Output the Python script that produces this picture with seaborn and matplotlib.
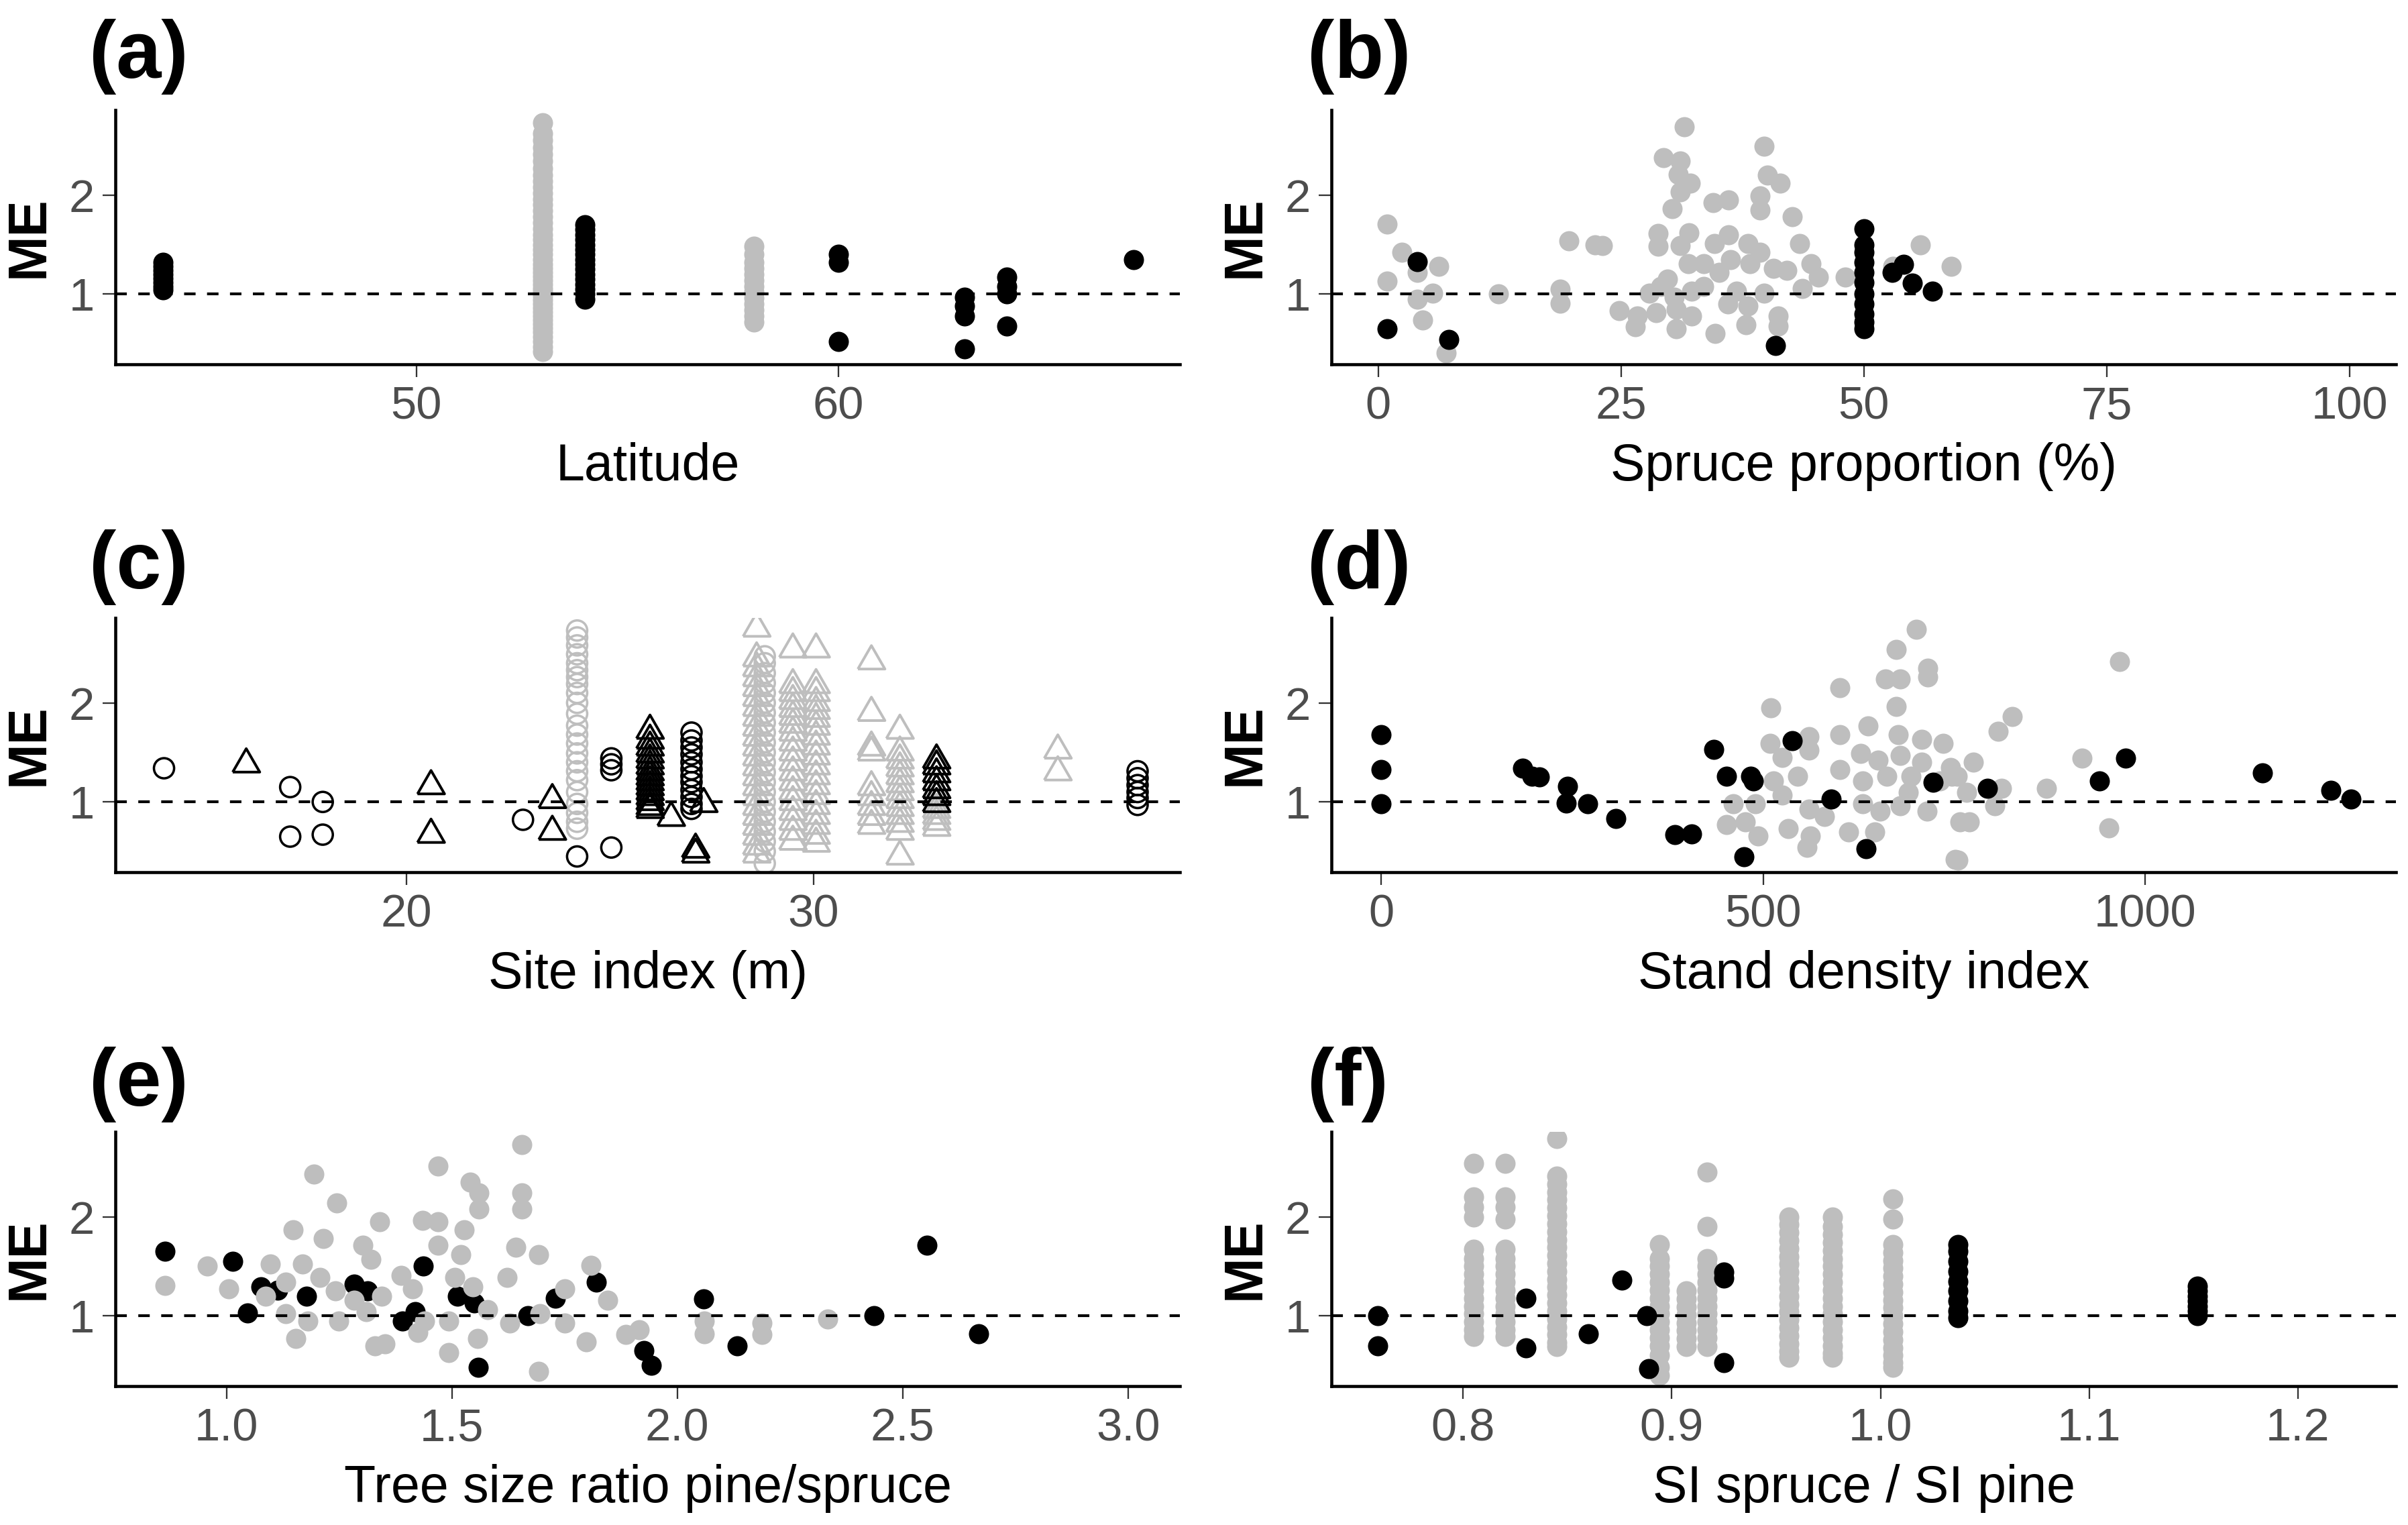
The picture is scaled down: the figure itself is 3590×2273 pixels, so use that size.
import numpy as np
import pandas as pd
import matplotlib
matplotlib.use("Agg")
import matplotlib.pyplot as plt
import seaborn as sns

# ---------------- DATA ----------------
# (a) Latitude
a_black_x = [44.0, 54.0, 60.0, 63.0, 64.0, 67.0]
a_black_me = [
    [1.04, 1.08, 1.12, 1.16, 1.20, 1.24, 1.28, 1.32],
    [0.95, 1.00, 1.05, 1.10, 1.15, 1.20, 1.25, 1.30, 1.35, 1.40, 1.45, 1.50, 1.55, 1.60, 1.65, 1.70],
    [0.52, 1.32, 1.40],
    [0.45, 0.78, 0.88, 0.97],
    [0.68, 1.00, 1.08, 1.17],
    [1.35],
]
a_grey_x = [53.0, 58.0]
a_grey_me = [
    [0.42, 0.47, 0.52, 0.57, 0.62, 0.66, 0.70, 0.74, 0.78, 0.82, 0.86, 0.90, 0.94, 0.98, 1.02,
     1.06, 1.10, 1.14, 1.18, 1.22, 1.26, 1.30, 1.35, 1.40, 1.45, 1.50, 1.55, 1.60, 1.66, 1.72,
     1.78, 1.84, 1.90, 1.96, 2.02, 2.08, 2.14, 2.20, 2.27, 2.34, 2.41, 2.48, 2.55, 2.62, 2.73],
    [0.72, 0.78, 0.84, 0.90, 0.96, 1.02, 1.08, 1.14, 1.20, 1.26, 1.32, 1.40, 1.48],
]

# (b) Spruce proportion (%)
b_grey_x = [0.9, 0.9, 2.4, 4.0, 4.0, 6.2, 5.6, 4.6, 7.0, 12.4, 18.7, 18.7, 19.6, 22.3,
            31.5, 39.7, 29.4, 31.1, 30.9, 32.1, 31.1, 30.3, 34.5, 36.1, 40.1, 41.4, 39.3, 39.3,
            42.6, 28.8, 28.8, 32.0, 34.6, 36.1, 38.1, 39.3, 43.4, 44.6, 45.3, 48.1, 23.1, 29.8,
            31.1, 31.9, 33.5, 35.1, 36.3, 38.3, 40.7, 42.1, 43.7, 27.9, 29.1, 30.5, 32.3, 33.5,
            36.0, 36.9, 38.1, 39.7, 24.8, 26.7, 28.6, 30.7, 32.3, 30.7, 34.7, 37.9, 41.2, 41.2,
            53.0, 26.5, 55.8, 59.0]
b_grey_me = [1.71, 1.13, 1.42, 1.22, 0.95, 1.28, 1.01, 0.74, 0.41, 1.00, 1.05, 0.91, 1.54, 1.50,
             2.69, 2.49, 2.38, 2.34, 2.21, 2.12, 2.03, 1.86, 1.92, 1.95, 2.20, 2.12, 1.99, 1.85,
             1.78, 1.61, 1.48, 1.62, 1.51, 1.60, 1.51, 1.42, 1.51, 1.31, 1.17, 1.17, 1.49, 1.15,
             1.49, 1.31, 1.31, 1.22, 1.35, 1.31, 1.26, 1.24, 1.06, 1.01, 1.08, 0.97, 1.03, 1.08,
             0.90, 1.03, 0.88, 1.01, 0.83, 0.78, 0.81, 0.85, 0.78, 0.65, 0.60, 0.69, 0.78, 0.68,
             1.28, 0.67, 1.50, 1.28]
b_black_x = [0.9, 4.0, 7.3, 40.9, 50.0, 50.0, 50.0, 50.0, 50.0, 50.0, 50.0, 50.0, 50.0, 50.0,
             50.0, 52.9, 54.1, 55.0, 57.1]
b_black_me = [0.65, 1.33, 0.54, 0.48, 1.66, 1.50, 1.42, 1.32, 1.22, 1.12, 1.00, 0.90, 0.80,
              0.72, 0.65, 1.22, 1.30, 1.11, 1.03]

# (c) Site index (m): circles and triangles, black and grey
c_bk_circ_x = [14.04, 17.14, 17.94, 22.86, 24.19, 25.03, 27.0, 37.96]
c_bk_circ_me = [
    [1.34], [1.15, 0.65], [1.00, 0.67], [0.82], [0.45], [0.54, 1.32, 1.38, 1.44],
    [1.70, 1.62, 1.55, 1.48, 1.40, 1.33, 1.26, 1.20, 1.12, 1.05, 0.98, 0.93],
    [0.97, 1.04, 1.10, 1.17, 1.24, 1.31],
]
c_bk_tri_x = [16.06, 20.6, 23.58, 25.98, 26.5, 27.1, 27.3, 33.02]
c_bk_tri_me = [
    [1.38], [1.16, 0.67], [1.02, 0.70],
    [0.92, 0.95, 1.00, 1.05, 1.10, 1.15, 1.20, 1.25, 1.30, 1.36, 1.42, 1.48, 1.55, 1.62, 1.72],
    [0.84], [0.47, 0.52], [0.98],
    [0.98, 1.05, 1.12, 1.20, 1.28, 1.36, 1.42],
]
c_gr_circ_x = [24.19, 28.8]
c_gr_circ_me = [
    [0.73, 0.80, 0.89, 0.98, 1.10, 1.22, 1.31, 1.40, 1.49, 1.59, 1.68, 1.77, 1.89, 2.00, 2.10,
     2.19, 2.26, 2.33, 2.40, 2.49, 2.58, 2.66, 2.73],
    [0.38, 0.50, 0.60, 0.70, 0.80, 0.90, 1.00, 1.10, 1.20, 1.30, 1.40, 1.50, 1.60, 1.70, 1.80,
     1.90, 2.00, 2.10, 2.20, 2.30, 2.40, 2.47],
]
c_gr_tri_x = [28.6, 29.49, 30.06, 31.42, 32.12, 33.02, 36.0]
c_gr_tri_me = [
    [2.75, 2.45, 2.35, 2.25, 2.15, 2.05, 1.95, 1.85, 1.75, 1.65, 1.55, 1.45, 1.35, 1.25, 1.15,
     1.05, 0.95, 0.85, 0.75, 0.65, 0.55, 0.47],
    [2.54, 2.18, 2.10, 2.02, 1.94, 1.86, 1.78, 1.70, 1.60, 1.50, 1.40, 1.30, 1.20, 1.10, 1.00,
     0.90, 0.80, 0.70, 0.60],
    [2.54, 2.18, 2.10, 2.00, 1.92, 1.84, 1.76, 1.66, 1.56, 1.46, 1.36, 1.26, 1.16, 1.06, 0.96,
     0.86, 0.76, 0.66, 0.58],
    [2.42, 1.90, 1.55, 1.50, 1.15, 1.05, 0.95, 0.85, 0.76],
    [1.72, 1.50, 1.42, 1.34, 1.26, 1.18, 1.10, 1.02, 0.94, 0.86, 0.78, 0.70, 0.45],
    [0.74, 0.80, 0.86, 0.92],
    [1.52, 1.30],
]

# (d) Stand density index
d_black_x = [0, 0, 0, 185, 197, 207, 244, 242, 270, 307, 384, 406, 435, 452, 483, 487, 475,
             538, 589, 634, 722, 793, 940, 974, 1153, 1243, 1269]
d_black_me = [1.68, 1.33, 0.98, 1.34, 1.26, 1.25, 1.16, 0.99, 0.98, 0.83, 0.67, 0.68, 1.53,
              1.26, 1.26, 1.21, 0.45, 1.62, 1.03, 0.53, 1.20, 1.14, 1.21, 1.44, 1.29, 1.12, 1.03]
d_grey_x = [700, 674, 715, 660, 679, 715, 600, 674, 510, 637, 600, 560, 560, 509, 677, 707,
            735, 627, 650, 679, 707, 745, 600, 525, 545, 513, 630, 662, 693, 731, 754, 461,
            490, 525, 560, 630, 653, 679, 714, 452, 476, 493, 533, 562, 557, 612, 646, 757,
            751, 826, 966, 807, 775, 917, 812, 871, 803, 770, 952, 755, 766, 747, 580, 690]
d_grey_me = [2.74, 2.54, 2.35, 2.24, 2.24, 2.26, 2.15, 1.96, 1.95, 1.77, 1.68, 1.66, 1.52,
             1.59, 1.68, 1.63, 1.59, 1.49, 1.42, 1.47, 1.40, 1.35, 1.33, 1.45, 1.26, 1.21,
             1.21, 1.26, 1.26, 1.21, 1.26, 0.98, 0.98, 1.07, 0.93, 0.98, 0.91, 0.96, 0.91,
             0.77, 0.80, 0.66, 0.73, 0.66, 0.54, 0.70, 0.70, 0.80, 0.42, 1.86, 2.42, 1.71,
             1.40, 1.44, 1.14, 1.14, 0.96, 0.80, 0.74, 0.41, 1.10, 1.26, 0.85, 1.10]

# (e) Tree size ratio pine/spruce
e_black_x = [0.864, 1.014, 1.046, 1.077, 1.114, 1.178, 1.283, 1.313, 1.437, 1.391, 1.418,
             1.513, 1.55, 1.559, 1.669, 1.73, 1.821, 1.926, 1.943, 2.058, 2.133, 2.436, 2.554,
             2.669]
e_black_me = [1.65, 1.55, 1.03, 1.29, 1.26, 1.20, 1.32, 1.25, 1.50, 0.95, 1.04, 1.20, 1.13,
              0.48, 1.00, 1.18, 1.34, 0.65, 0.50, 1.17, 0.70, 1.00, 1.71, 0.82]
e_grey_x = [0.864, 0.958, 1.655, 1.469, 1.194, 1.244, 1.54, 1.56, 1.56, 1.655, 1.655, 1.34,
            1.435, 1.469, 1.527, 1.148, 1.215, 1.303, 1.469, 1.52, 1.642, 1.693, 1.097, 1.168,
            1.32, 1.388, 1.808, 1.005, 1.087, 1.131, 1.208, 1.242, 1.283, 1.344, 1.412, 1.506,
            1.547, 1.622, 1.75, 1.845, 1.131, 1.181, 1.249, 1.31, 1.439, 1.493, 1.58, 1.628,
            1.696, 1.75, 1.154, 1.351, 1.425, 1.493, 1.557, 1.798, 1.886, 1.916, 1.693, 1.33,
            2.06, 2.06, 2.188, 2.188, 2.333]
e_grey_me = [1.31, 1.50, 2.73, 2.51, 2.43, 2.14, 2.35, 2.24, 2.08, 2.24, 2.08, 1.95, 1.96,
             1.95, 1.87, 1.87, 1.78, 1.71, 1.71, 1.62, 1.69, 1.62, 1.52, 1.52, 1.57, 1.41,
             1.51, 1.27, 1.20, 1.34, 1.39, 1.25, 1.16, 1.20, 1.27, 1.39, 1.29, 1.39, 1.27,
             1.16, 1.02, 0.95, 0.95, 1.04, 0.95, 0.95, 1.06, 0.93, 1.02, 0.93, 0.77, 0.72,
             0.83, 0.63, 0.77, 0.74, 0.81, 0.86, 0.44, 0.70, 0.82, 0.95, 0.81, 0.93, 0.97]

# (f) SI spruce / SI pine
f_black_x = [0.759, 0.830, 0.86, 0.876, 0.888, 0.889, 0.925, 1.037, 1.152]
f_black_me = [
    [1.00, 0.70], [1.18, 0.68], [0.82], [1.36], [1.00], [0.47], [1.44, 1.38, 0.53],
    [0.98, 1.05, 1.15, 1.25, 1.35, 1.45, 1.55, 1.65, 1.72],
    [1.00, 1.05, 1.10, 1.15, 1.20, 1.25, 1.30],
]
f_grey_x = [0.805, 0.82, 0.845, 0.894, 0.907, 0.917, 0.956, 0.977, 1.006]
f_grey_me = [
    [2.54, 2.20, 2.10, 2.00, 1.67, 1.58, 1.50, 1.42, 1.34, 1.26, 1.18, 1.10, 1.02, 0.94, 0.86, 0.79],
    [2.54, 2.20, 2.10, 1.98, 1.67, 1.58, 1.50, 1.42, 1.34, 1.26, 1.18, 1.10, 1.02, 0.94, 0.86, 0.79],
    [2.79, 2.41, 2.33, 2.25, 2.17, 2.09, 2.01, 1.93, 1.85, 1.77, 1.69, 1.61, 1.53, 1.45, 1.37,
     1.29, 1.21, 1.13, 1.05, 0.97, 0.89, 0.81, 0.73, 0.69],
    [1.72, 1.58, 1.50, 1.42, 1.34, 1.26, 1.18, 1.10, 1.02, 0.94, 0.86, 0.78, 0.70, 0.60, 0.48, 0.40],
    [1.25, 1.17, 1.09, 1.01, 0.93, 0.85, 0.77, 0.69],
    [2.45, 1.90, 1.58, 1.50, 1.42, 1.34, 1.26, 1.18, 1.10, 1.02, 0.94, 0.86, 0.78, 0.69],
    [2.00, 1.92, 1.84, 1.76, 1.68, 1.60, 1.52, 1.44, 1.36, 1.28, 1.20, 1.12, 1.04, 0.96, 0.88,
     0.80, 0.72, 0.64, 0.58],
    [2.00, 1.90, 1.82, 1.74, 1.66, 1.58, 1.50, 1.42, 1.34, 1.26, 1.18, 1.10, 1.02, 0.94, 0.86,
     0.78, 0.70, 0.62, 0.58],
    [2.18, 1.98, 1.72, 1.64, 1.56, 1.48, 1.40, 1.32, 1.24, 1.16, 1.08, 1.00, 0.92, 0.84, 0.76,
     0.68, 0.60, 0.53, 0.48],
]

panel_labels = ["(a)", "(b)", "(c)", "(d)", "(e)", "(f)"]
x_titles = ["Latitude", "Spruce proportion (%)", "Site index (m)", "Stand density index",
            "Tree size ratio pine/spruce", "SI spruce / SI pine"]
x_ticks = [[50, 60], [0, 25, 50, 75, 100], [20, 30], [0, 500, 1000],
           [1.0, 1.5, 2.0, 2.5, 3.0], [0.8, 0.9, 1.0, 1.1, 1.2]]
x_ticklabels = [["50", "60"], ["0", "25", "50", "75", "100"], ["20", "30"],
                ["0", "500", "1000"], ["1.0", "1.5", "2.0", "2.5", "3.0"],
                ["0.8", "0.9", "1.0", "1.1", "1.2"]]
x_limits = [(42.87, 68.1), (-4.8, 104.8), (12.85, 39.0), (-65, 1328), (0.754, 3.115), (0.737, 1.247)]
y_limits = (0.29, 2.86)
y_ticks = [1, 2]


def groups_to_df(xs, mes):
    rows = [(x, m) for x, ml in zip(xs, mes) for m in ml]
    return pd.DataFrame(rows, columns=["x", "ME"])


def points_df(xs, mes):
    return pd.DataFrame({"x": xs, "ME": mes})


# ---------------- FIGURE ----------------
sns.set_theme(style="white")
plt.rcParams["font.family"] = ["Liberation Sans", "DejaVu Sans"]
plt.rcParams["text.color"] = "black"
plt.rcParams["axes.labelcolor"] = "black"

GREY = "#BEBEBE"
BLACK = "#000000"
S_DOT = 52
# equilateral open triangle (like R's shape 2), centred on its centroid
TRI = [(-1.0, -0.577), (1.0, -0.577), (0.0, 1.155), (-1.0, -0.577)]

fig = plt.figure(figsize=(3590 / 300, 2273 / 300), dpi=300)
lefts = [0.048, 0.553]
bottoms = [0.761, 0.428, 0.091]
W, H = 0.442, 0.167
label_x = [0.037, 0.543]
label_y = [0.963, 0.628, 0.289]

axes = []
for r in range(3):
    for c in range(2):
        axes.append(fig.add_axes([lefts[c], bottoms[r], W, H]))

dot_kw = dict(s=S_DOT, linewidth=0, legend=False, zorder=2)

# (a)
ax = axes[0]
sns.scatterplot(data=groups_to_df(a_grey_x, a_grey_me), x="x", y="ME", color=GREY, ax=ax, **dot_kw)
sns.scatterplot(data=groups_to_df(a_black_x, a_black_me), x="x", y="ME", color=BLACK, ax=ax, **dot_kw)

# (b)
ax = axes[1]
sns.scatterplot(data=points_df(b_grey_x, b_grey_me), x="x", y="ME", color=GREY, ax=ax, **dot_kw)
sns.scatterplot(data=points_df(b_black_x, b_black_me), x="x", y="ME", color=BLACK, ax=ax, **dot_kw)

# (c)
ax = axes[2]
for xs, mes, col, mk, s, lw in [
    (c_gr_circ_x, c_gr_circ_me, GREY, "o", 52, 0.85),
    (c_gr_tri_x, c_gr_tri_me, GREY, TRI, 125, 0.95),
    (c_bk_circ_x, c_bk_circ_me, BLACK, "o", 52, 0.85),
    (c_bk_tri_x, c_bk_tri_me, BLACK, TRI, 125, 0.95),
]:
    sns.scatterplot(data=groups_to_df(xs, mes), x="x", y="ME", ax=ax, marker=mk, s=s,
                    color=col, facecolor="none", edgecolor=col, linewidth=lw,
                    legend=False, zorder=2)

# (d)
ax = axes[3]
sns.scatterplot(data=points_df(d_grey_x, d_grey_me), x="x", y="ME", color=GREY, ax=ax, **dot_kw)
sns.scatterplot(data=points_df(d_black_x, d_black_me), x="x", y="ME", color=BLACK, ax=ax, **dot_kw)

# (e)
ax = axes[4]
sns.scatterplot(data=points_df(e_black_x, e_black_me), x="x", y="ME", color=BLACK, ax=ax, **dot_kw)
sns.scatterplot(data=points_df(e_grey_x, e_grey_me), x="x", y="ME", color=GREY, ax=ax, **dot_kw)

# (f)
ax = axes[5]
sns.scatterplot(data=groups_to_df(f_grey_x, f_grey_me), x="x", y="ME", color=GREY, ax=ax, **dot_kw)
sns.scatterplot(data=groups_to_df(f_black_x, f_black_me), x="x", y="ME", color=BLACK, ax=ax, **dot_kw)

for i, ax in enumerate(axes):
    ax.axhline(1, color="black", lw=1.0, ls=(0, (4.1, 4.1)), zorder=3)
    ax.set_xlim(*x_limits[i])
    ax.set_ylim(*y_limits)
    ax.set_xticks(x_ticks[i])
    ax.set_xticklabels(x_ticklabels[i])
    ax.set_yticks(y_ticks)
    ax.set_yticklabels([str(t) for t in y_ticks])
    for side in ["top", "right"]:
        ax.spines[side].set_visible(False)
    for side in ["left", "bottom"]:
        ax.spines[side].set_linewidth(1.1)
        ax.spines[side].set_color("black")
    ax.tick_params(axis="both", direction="out", length=4.5, width=0.55, color="#333333",
                   labelsize=16.5, labelcolor="#4D4D4D", pad=3, left=True, bottom=True)
    ax.set_xlabel(x_titles[i], fontsize=18.5, color="black", labelpad=5)
    ax.set_ylabel("ME", fontsize=19.5, fontweight="bold", color="black", labelpad=5)
    ax.set_facecolor("white")
    ax.grid(False)
    r, c = divmod(i, 2)
    fig.text(label_x[c], label_y[r], panel_labels[i], fontsize=29, fontweight="bold",
             color="black", ha="left", va="center")

fig.savefig("out.png", dpi=300, facecolor="white")
